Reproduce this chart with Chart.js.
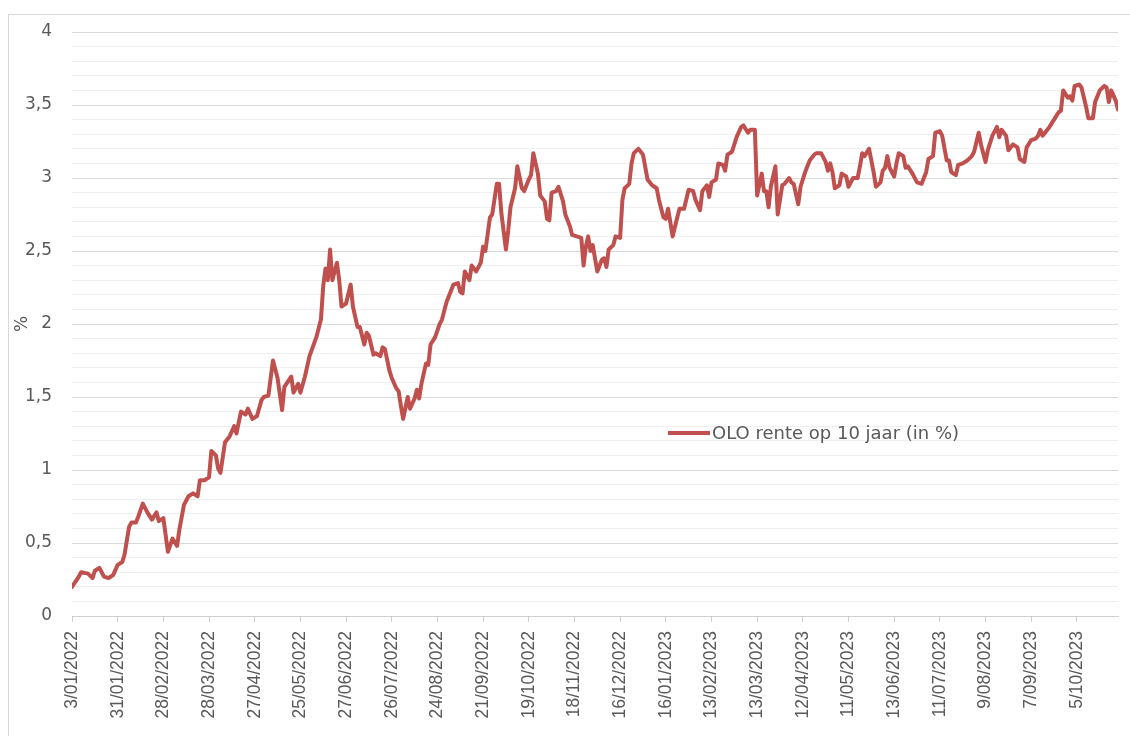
<!DOCTYPE html>
<html>
<head>
<meta charset="utf-8">
<script src="https://cdn.jsdelivr.net/npm/chart.js@4.4.0/dist/chart.umd.min.js"></script>
<style>
  body { margin: 0; background: #fff; }
  #wrap { position: relative; width: 1130px; height: 736px; overflow: hidden; }
  #kader { position: absolute; left: 8px; top: 14px; width: 1200px; height: 800px;
           border-left: 1px solid #d9d9d9; border-top: 1px solid #d9d9d9; pointer-events: none; }
  #legende { position: absolute; left: 668px; top: 422px; font-family: "DejaVu Sans"; font-size: 18px;
             color: #595959; display: flex; align-items: center; }
  #legende span.lijn { display: inline-block; width: 42px; height: 4px; background: #c0504d; margin-right: 2px; }
</style>
</head>
<body>
<div id="wrap">
  <canvas id="grafiek" width="1130" height="736"></canvas>
  <div id="kader"></div>
  <div id="legende"><span class="lijn"></span>OLO rente op 10 jaar (in %)</div>
</div>
<script>
// labels op de x-as (elke 20 beursdagen)
var datumLabels = ["3/01/2022", "31/01/2022", "28/02/2022", "28/03/2022", "27/04/2022", "25/05/2022",
  "27/06/2022", "26/07/2022", "24/08/2022", "21/09/2022", "19/10/2022", "18/11/2022", "16/12/2022",
  "16/01/2023", "13/02/2023", "13/03/2023", "12/04/2023", "11/05/2023", "13/06/2023", "11/07/2023",
  "9/08/2023", "7/09/2023", "5/10/2023"];

// beursdag (0 = 3/01/2022) en OLO rente 10 jaar in %
var dagen = [0, 3, 4, 7, 9, 10, 12, 14, 16, 18, 20, 22, 23, 25, 26, 28, 29, 31, 33, 35, 37, 38, 40, 42, 44, 46, 47, 49,
  51, 53, 55, 56, 58, 60, 61, 63, 64, 65, 67, 69, 71, 72, 74, 76, 77, 79, 81, 83, 84, 86, 88, 90, 92, 93, 96, 97, 99,
  100, 102, 104, 107, 109, 110, 111, 112, 113, 114, 115, 116, 117, 118, 120, 122, 123, 125, 126, 128, 129, 130, 132,
  133, 135, 136, 137, 139, 140, 142, 143, 144, 145, 147, 148, 150, 151, 152, 153, 155, 156, 157, 159, 161, 162, 164,
  166, 167, 169, 170, 171, 172, 174, 175, 177, 179, 180, 181, 183, 184, 186, 187, 188, 190, 191, 192, 194, 195, 197,
  198, 200, 201, 202, 204, 205, 207, 208, 209, 210, 212, 213, 215, 216, 218, 219, 221, 223, 224, 225, 226, 227, 228,
  230, 232, 233, 234, 235, 237, 238, 240, 241, 242, 244, 245, 246, 248, 250, 252, 254, 256, 257, 259, 260, 261, 263,
  265, 266, 268, 270, 272, 273, 275, 276, 278, 279, 280, 282, 283, 285, 286, 287, 289, 291, 293, 294, 296, 297, 299,
  300, 302, 303, 304, 305, 306, 308, 309, 311, 312, 314, 315, 316, 318, 319, 321, 322, 323, 325, 326, 328, 330, 331,
  332, 333, 334, 336, 337, 339, 340, 342, 344, 345, 346, 347, 349, 351, 352, 354, 355, 356, 357, 358, 360, 361, 362,
  364, 365, 366, 368, 370, 372, 374, 375, 377, 378, 380, 381, 383, 384, 385, 387, 388, 390, 392, 394, 395, 397, 398,
  400, 401, 403, 405, 406, 407, 409, 410, 412, 414, 415, 417, 418, 420, 422, 423, 424, 425, 428, 430, 432, 433, 434,
  436, 437, 438, 439, 441, 442, 444, 445, 447, 448, 450, 452, 453, 454, 455, 457, 458];

var rente = [0.20, 0.27, 0.30, 0.29, 0.26, 0.31, 0.33, 0.27, 0.26, 0.28, 0.35, 0.37, 0.42, 0.61, 0.64, 0.64, 0.68, 0.77,
  0.71, 0.66, 0.71, 0.65, 0.67, 0.44, 0.53, 0.48, 0.59, 0.76,
  0.82, 0.84, 0.82, 0.93, 0.93, 0.95, 1.13, 1.10, 1.01, 0.98, 1.19, 1.23, 1.30, 1.25, 1.40, 1.38, 1.42, 1.35, 1.37,
  1.48, 1.50, 1.51, 1.75, 1.63, 1.41, 1.57, 1.64, 1.53, 1.59,
  1.53, 1.64, 1.78, 1.91, 2.03, 2.26, 2.38, 2.30, 2.51, 2.30, 2.36, 2.42, 2.30, 2.12, 2.14, 2.27, 2.12, 1.98, 1.98,
  1.86, 1.94, 1.92, 1.79,
  1.80, 1.78, 1.84, 1.83, 1.68, 1.63, 1.56, 1.54, 1.44, 1.35, 1.50, 1.42, 1.49, 1.55, 1.49, 1.59, 1.73, 1.72, 1.86,
  1.91, 2.00, 2.03, 2.15,
  2.23, 2.27, 2.28, 2.22, 2.21, 2.36, 2.30, 2.40, 2.36, 2.42, 2.53, 2.50, 2.73, 2.75, 2.96, 2.96, 2.76, 2.51, 2.64,
  2.80, 2.93, 3.08, 2.93,
  2.91, 2.99, 3.02, 3.17, 3.03, 2.88, 2.84, 2.72, 2.71, 2.90, 2.91, 2.94, 2.84, 2.75, 2.67, 2.61, 2.60, 2.59, 2.40,
  2.53, 2.60, 2.50, 2.54,
  2.36, 2.44, 2.45, 2.39, 2.51, 2.54, 2.60, 2.59, 2.85, 2.93, 2.96, 3.10, 3.17, 3.20, 3.16, 2.99, 2.95, 2.93, 2.85,
  2.73, 2.72, 2.79, 2.60,
  2.73, 2.79, 2.79, 2.92, 2.91, 2.85, 2.78, 2.91, 2.95, 2.87, 2.97, 2.99, 3.10, 3.09, 3.05, 3.16, 3.18, 3.28, 3.35,
  3.36, 3.31, 3.33, 3.33,
  2.88, 3.03, 2.91, 2.91, 2.80, 2.94, 3.08, 2.75, 2.95, 2.96, 3.00, 2.97, 2.96, 2.82, 2.94, 3.04, 3.08, 3.12, 3.16,
  3.17, 3.17, 3.11, 3.05,
  3.10, 3.04, 2.93, 2.95, 3.03, 3.01, 2.94, 3.00, 3.00, 3.08, 3.17, 3.15, 3.20, 3.04, 2.94, 2.97, 3.05, 3.07, 3.15,
  3.07, 3.01, 3.10, 3.17,
  3.15, 3.07, 3.08, 3.03, 2.97, 2.96, 3.04, 3.13, 3.15, 3.31, 3.32, 3.29, 3.12, 3.12, 3.04, 3.02, 3.09, 3.10, 3.12,
  3.15, 3.18, 3.31, 3.23,
  3.11, 3.19, 3.29, 3.35, 3.28, 3.33, 3.29, 3.19, 3.23, 3.21, 3.13, 3.11, 3.21, 3.26, 3.27, 3.29, 3.33, 3.29, 3.35,
  3.40, 3.45, 3.46, 3.60,
  3.55, 3.56, 3.53, 3.63, 3.64, 3.62, 3.49, 3.41, 3.41, 3.52, 3.60, 3.63, 3.62, 3.52, 3.60, 3.53, 3.47];

var punten = dagen.map(function (d, i) { return { x: d, y: rente[i] }; });

var tekstKleur = '#595959';

const config = {
  type: 'line',
  data: {
    datasets: [{
      label: 'OLO rente op 10 jaar (in %)',
      data: punten,
      borderColor: '#c0504d',
      borderWidth: 4,
      pointRadius: 0,
      tension: 0,
      borderJoinStyle: 'round',
      borderCapStyle: 'round'
    }]
  },
  options: {
    responsive: false,
    animation: false,
    layout: { padding: { top: 32, right: 12, left: 0, bottom: 0 } },
    plugins: {
      legend: { display: false },
      tooltip: { enabled: false }
    },
    scales: {
      x: {
        type: 'linear',
        min: 0,
        max: 458,
        afterFit: function (scale) { scale.height = 120; },
        grid: { drawOnChartArea: false, drawTicks: true, tickLength: 6, tickColor: '#d0d0d0' },
        border: { color: '#d0d0d0', width: 1 },
        ticks: {
          stepSize: 20,
          includeBounds: false,
          autoSkip: false,
          maxRotation: 90,
          minRotation: 90,
          padding: 9,
          color: tekstKleur,
          font: { family: 'Liberation Sans', size: 17.5 },
          callback: function (v) { return datumLabels[Math.round(v / 20)]; }
        }
      },
      y: {
        min: 0,
        max: 4,
        afterFit: function (scale) { scale.width = 72; },
        border: { display: false },
        grid: {
          drawTicks: false,
          color: function (ctx) {
            return Math.round(ctx.tick.value * 10) % 5 === 0 ? '#d9d9d9' : '#efefef';
          },
          lineWidth: 1
        },
        title: {
          display: true,
          text: '%',
          color: tekstKleur,
          font: { family: 'DejaVu Sans', size: 17 },
          padding: { top: 12, bottom: 0 }
        },
        ticks: {
          stepSize: 0.1,
          autoSkip: false,
          padding: 20,
          color: tekstKleur,
          font: { family: 'DejaVu Sans', size: 17 },
          callback: function (v) {
            var t = Math.round(v * 10);
            if (t % 5 !== 0) return '';
            return String(t / 10).replace('.', ',');
          }
        }
      }
    }
  }
};

var grafiek = new Chart(document.getElementById('grafiek'), config);
</script>
</body>
</html>
